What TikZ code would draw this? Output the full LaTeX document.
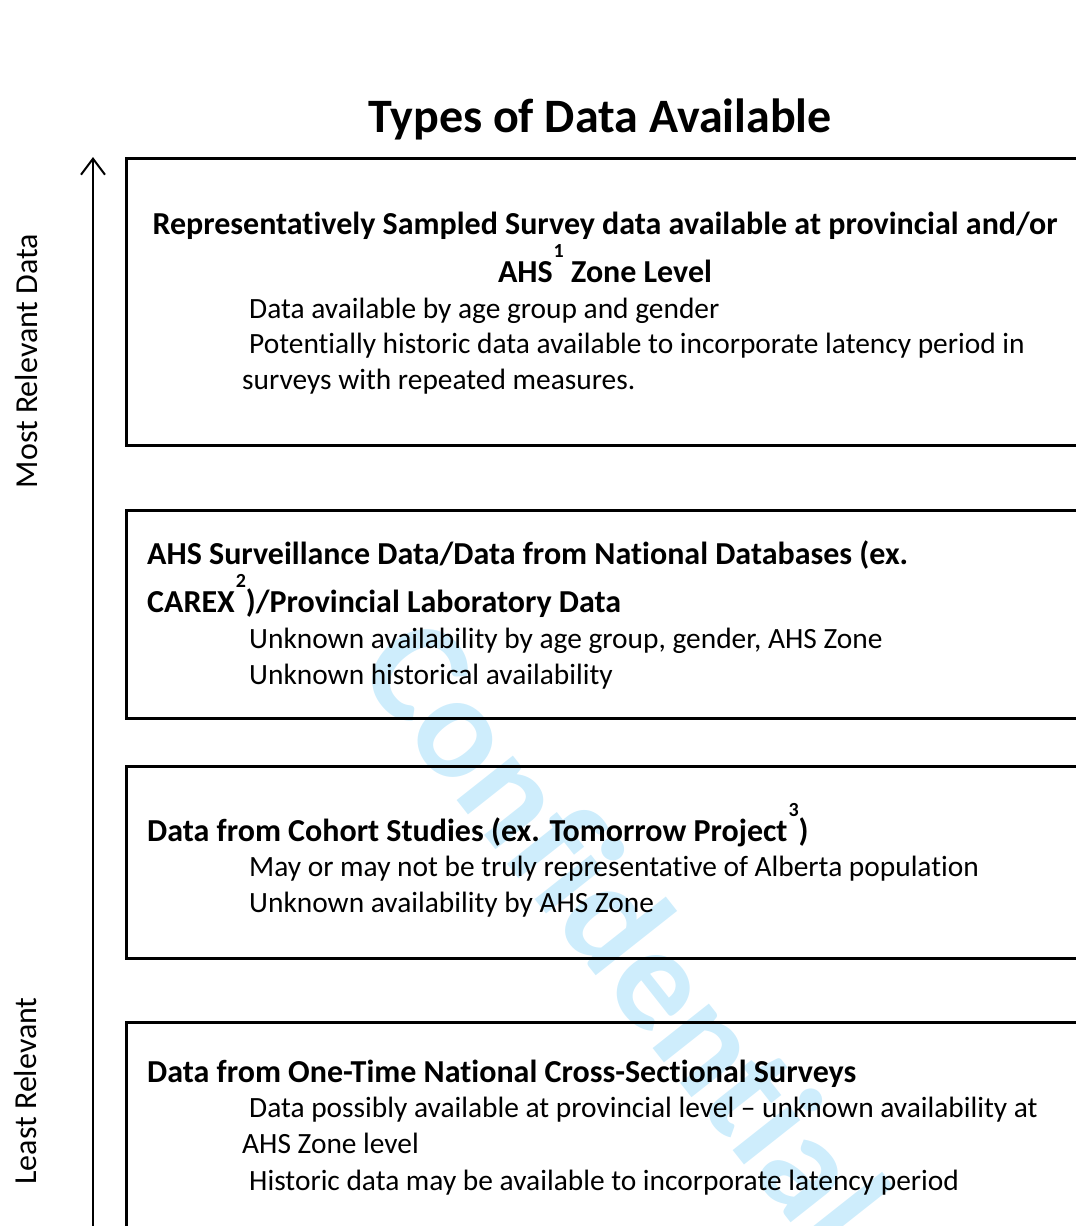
\documentclass[tikz,border=0pt]{standalone}
\usepackage{fontspec}
\setmainfont{Carlito}[Ligatures=NoCommon]
\usetikzlibrary{arrows.meta}
\definecolor{wmblue}{RGB}{206,237,252}
% raised footnote number used in the tier headings
\newcommand\supnum[1]{\raisebox{25pt}{\fontsize{20}{20}\selectfont\bfseries #1}}
\begin{document}
\begin{tikzpicture}[x=1pt,y=-1pt,
  tier/.style={draw, line width=3pt, rectangle, inner sep=0pt, anchor=north west},
  body/.style={anchor=base west, inner sep=0pt, font=\fontsize{29.4}{35}\selectfont},
  head/.style={anchor=base west, inner sep=0pt, font=\fontsize{32}{38}\selectfont\bfseries},
  headc/.style={anchor=base, inner sep=0pt, font=\fontsize{32}{38}\selectfont\bfseries},
  side/.style={anchor=base, rotate=90, inner sep=0pt, font=\fontsize{32}{38}\selectfont},
  scale arrow/.style={line width=2pt, -{Straight Barb[length=16pt, width=24pt]}}]
\useasboundingbox (0,0) rectangle (1076,1226);
\clip (0,0) rectangle (1076,1226);

% watermark
\node[anchor=mid, rotate=-51.7, inner sep=0pt, text=wmblue,
      font=\fontsize{148}{148}\selectfont\bfseries] (wm) at (588,962) {Confidential};

% title
\node[anchor=base, inner sep=0pt, font=\fontsize{48}{56}\selectfont\bfseries] (title) at (600,132) {Types of Data Available};

% relevance scale
\coordinate (abot) at (93,1240);
\coordinate (atop) at (93,157);
\draw[scale arrow] (abot) -- (atop);
\node[side] (most) at (37,361) {Most Relevant Data};
\node[side] (least) at (36,1091) {Least Relevant};

% tiers
\node[tier, minimum width=965pt, minimum height=287pt] (t1) at (125,157) {};
\node[tier, minimum width=965pt, minimum height=208pt] (t2) at (125,509) {};
\node[tier, minimum width=965pt, minimum height=192pt] (t3) at (125,765) {};
\node[tier, minimum width=965pt, minimum height=240pt] (t4) at (125,1021) {};

% tier 1
\node[headc] (h1a) at (605,234) {Representatively Sampled Survey data available at provincial and/or};
\node[headc] (h1b) at (605,282) {AHS\kern1pt\supnum{1} Zone Level};
\node[body] (b1a) at (249,318) {Data available by age group and gender};
\node[body] (b1b) at (249,353) {Potentially historic data available to incorporate latency period in};
\node[body] (b1c) at (242,389) {surveys with repeated measures.};

% tier 2
\node[head] (h2a) at (147,564) {AHS Surveillance Data/Data from National Databases (ex.};
\node[head] (h2b) at (147,612) {CAREX\kern1pt\supnum{2})/Provincial Laboratory Data};
\node[body] (b2a) at (249,648) {Unknown availability by age group, gender, AHS Zone};
\node[body] (b2b) at (249,684) {Unknown historical availability};

% tier 3
\node[head] (h3a) at (147,841) {Data from Cohort Studies (ex. Tomorrow Project\kern1pt\supnum{3})};
\node[body] (b3a) at (249,876) {May or may not be truly representative of Alberta population};
\node[body] (b3b) at (249,912) {Unknown availability by AHS Zone};

% tier 4
\node[head] (h4a) at (147,1082) {Data from One-Time National Cross-Sectional Surveys};
\node[body] (b4a) at (249,1117) {Data possibly available at provincial level – unknown availability at};
\node[body] (b4b) at (242,1153) {AHS Zone level};
\node[body] (b4c) at (249,1190) {Historic data may be available to incorporate latency period};
\end{tikzpicture}
\end{document}
